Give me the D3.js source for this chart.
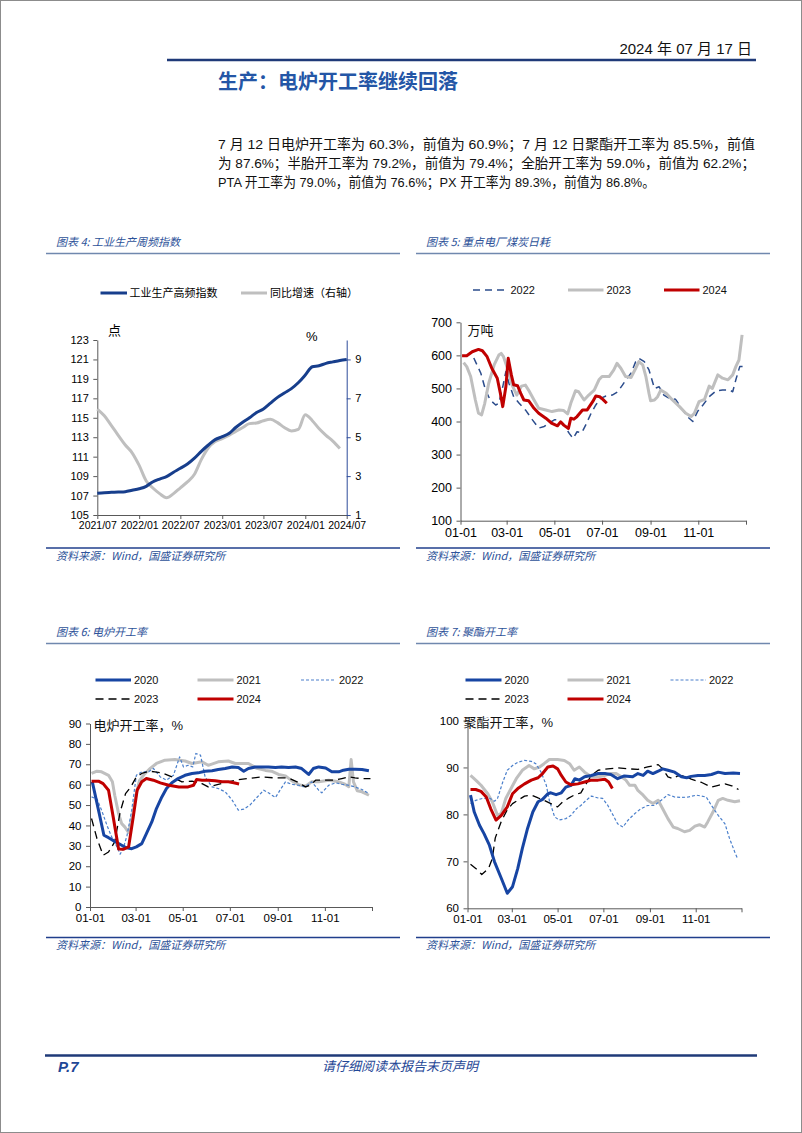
<!DOCTYPE html>
<html><head><meta charset="utf-8">
<script src="https://cdn.jsdelivr.net/npm/d3@7"></script>
<style>
html,body{margin:0;padding:0;background:#fff;}
svg{display:block;}
</style></head>
<body>
<script>
// ---------------- DATA ----------------
// Chart 4: industrial production weekly index (monthly samples)
const idxDates = ["2021-07","2021-08","2021-09","2021-10","2021-11","2021-12","2022-01","2022-02","2022-03","2022-04","2022-05","2022-06",
  "2022-07","2022-08","2022-09","2022-10","2022-11","2022-12","2023-01","2023-02","2023-03","2023-04","2023-05","2023-06",
  "2023-07","2023-08","2023-09","2023-10","2023-11","2023-12","2024-01","2024-02","2024-03","2024-04","2024-05","2024-06","2024-07"];
const idxValues = [107.23,107.3,107.33,107.36,107.4,107.55,107.7,107.95,108.4,108.7,108.95,109.4,
  109.8,110.25,110.85,111.55,112.2,112.75,113.05,113.4,114.0,114.55,115.0,115.55,
  115.9,116.5,117.1,117.55,118.0,118.6,119.4,120.25,120.35,120.6,120.75,120.9,121.0];
const yoyValues = [6.45,6.1,5.6,5.1,4.6,4.2,3.55,2.75,2.4,2.1,1.89,2.1,
  2.4,2.7,3.1,3.85,4.46,4.78,4.93,5.1,5.3,5.5,5.7,5.73,
  5.85,5.92,5.75,5.5,5.32,5.4,6.15,5.85,5.45,5.1,4.8,4.42];
const idxLeftTicks = [105,107,109,111,113,115,117,119,121,123];
const idxRightTicks = [1,3,5,7,9];
const idxXTicks = ["2021-07","2022-01","2022-07","2023-01","2023-07","2024-01","2024-07"];

// Chart 5: coal daily consumption [day of year, value]
const coal2022 = [[17,592],[26,546],[32,495],[38,465],[45,450],[49,455],[54,505],[58,551],[62,515],[68,475],[75,455],[83,435],[92,405],[100,380],[107,385],[113,395],[120,405],[126,405],[132,390],[139,364],[144,349],[149,369],[155,366],[160,389],[167,425],[173,450],[179,470],[186,477],[194,480],[201,490],[207,510],[213,531],[218,546],[224,581],[228,591],[235,581],[241,556],[248,500],[254,505],[260,480],[267,470],[275,467],[284,435],[290,415],[297,400],[303,430],[310,450],[318,475],[327,493],[335,495],[344,495],[348,490],[352,526],[357,566],[361,566]];
const coal2023 = [[4,578],[8,566],[13,536],[19,465],[23,425],[27,420],[31,455],[36,515],[43,571],[49,601],[52,606],[55,596],[60,561],[66,510],[72,480],[78,507],[83,510],[87,495],[94,465],[100,440],[109,435],[117,430],[126,435],[132,433],[137,423],[141,455],[147,493],[151,490],[158,465],[164,480],[171,495],[177,526],[181,536],[190,536],[196,556],[200,576],[205,561],[211,536],[218,533],[224,561],[228,581],[233,571],[237,536],[241,485],[243,463],[248,465],[252,475],[256,495],[263,485],[271,465],[280,445],[288,425],[295,415],[299,425],[305,460],[312,467],[318,507],[322,500],[329,541],[335,531],[342,526],[348,541],[352,566],[356,586],[360,662]];
const coal2024 = [[2,599],[8,599],[15,611],[23,618],[28,614],[34,596],[40,561],[47,531],[51,485],[54,445],[58,505],[61,591],[65,541],[68,511],[73,508],[77,485],[81,465],[87,463],[94,440],[100,425],[109,410],[117,394],[124,387],[128,399],[132,389],[138,379],[141,410],[145,407],[149,415],[156,435],[162,435],[169,460],[173,477],[178,475],[182,467],[187,455]];
const coalTicks = [100,200,300,400,500,600,700];

// Chart 6: EAF operating rate
const eaf2020 = [[3,61.4],[11,47.5],[18,35.2],[24,34],[32,32.2],[41,30.3],[47,29],[54,28.6],[60,29.5],[67,31.1],[73,36],[80,41.7],[86,48.3],[93,54],[99,58.1],[106,60.9],[114,63],[123,64.6],[132,65.5],[140,65.8],[149,66.6],[158,66.8],[166,67.4],[175,67.9],[184,68.7],[192,68.4],[199,66.6],[205,67.9],[214,68.7],[222,68.7],[231,68.7],[240,68.4],[248,68.7],[257,68.4],[266,68.7],[274,67.9],[283,65],[289,67.9],[296,68.7],[305,68.2],[313,66.3],[322,66.3],[328,67.1],[335,67.6],[343,67.6],[352,67.4],[361,66.8]];
const eaf2021 = [[2,65.5],[9,66.6],[15,66.3],[24,64.6],[29,61.4],[32,54.8],[37,45.8],[41,40.9],[45,39.3],[50,36.5],[55,45],[60,56],[64,62],[70,65],[78,68],[86,70.4],[97,72],[110,72.3],[123,71.6],[132,70.4],[145,71.2],[153,69.5],[166,71.2],[179,71.6],[188,70.4],[197,70.4],[205,70.4],[216,68],[227,67],[235,66.6],[244,65],[253,64.3],[261,62],[270,60],[279,59.2],[287,61.4],[296,61.4],[309,62.2],[322,61.4],[330,60.2],[335,59],[338,72.3],[341,61.4],[346,57],[352,56.5],[361,54.8]];
const eaf2022 = [[2,54],[9,53],[15,47.5],[22,40],[28,34.4],[35,29.5],[39,25.9],[43,28.7],[48,35.2],[54,47.5],[60,64.6],[67,66.3],[76,66.3],[82,68],[91,63.8],[99,62.2],[108,64.6],[116,73.6],[121,68.7],[127,69.5],[133,68.7],[137,75.3],[143,74.5],[149,63.8],[158,58.9],[166,58.1],[175,56.5],[184,52.4],[192,47.5],[199,48],[207,50],[216,53.7],[225,57.3],[231,56],[240,53.7],[246,57.3],[253,61.4],[261,60.2],[270,59.7],[279,58.9],[287,61.4],[296,57.3],[300,56],[309,59.7],[318,60.9],[326,60.2],[335,59.7],[343,58.9],[352,57.6],[361,55.6]];
const eaf2023 = [[2,43.4],[9,33.6],[17,25.4],[24,27],[32,31.9],[39,46.6],[46,55.6],[53,59],[60,63.8],[67,65.5],[76,66.6],[84,66.3],[93,65.8],[106,63.8],[119,61.4],[132,61.7],[145,60.5],[153,58.9],[166,60.2],[179,61.4],[192,62.5],[205,63],[222,63.8],[240,63.3],[257,63.3],[268,61.4],[279,58.9],[285,59.7],[292,62.2],[305,62.2],[317,62.2],[326,63],[335,63.8],[343,63.3],[352,63],[363,63]];
const eaf2024 = [[2,61.7],[11,61.7],[17,60.5],[24,57.3],[30,44.2],[37,28.5],[43,28.3],[50,29.5],[56,44.2],[61,57.3],[67,61.4],[73,63],[82,62.2],[91,60.9],[102,59.7],[115,58.9],[127,58.9],[134,59.7],[138,62.5],[145,62.2],[153,62.2],[162,61.9],[171,61.4],[179,61.4],[186,60.9],[193,60.3]];
const eafTicks = [0,10,20,30,40,50,60,70,80,90];

// Chart 7: polyester operating rate
const pet2020 = [[4,84.1],[9,80.5],[16,77.7],[22,75.9],[29,73.5],[36,69.9],[45,66.4],[53,63.2],[60,64.6],[67,68.5],[73,72.7],[80,77],[87,80.5],[94,82.7],[100,83.2],[107,84.4],[111,84.6],[118,84.2],[125,84.6],[131,85.8],[138,86.2],[143,87.6],[149,87.3],[156,88],[165,88.3],[174,88.7],[183,88.7],[191,88.5],[200,87.6],[209,88.2],[220,88],[227,88.7],[234,88.3],[240,89.2],[247,88.7],[254,89.2],[260,89.7],[267,89.4],[276,89],[285,88],[292,87.8],[298,88.1],[307,88.3],[316,88.3],[325,88.5],[334,89],[343,88.7],[354,88.8],[363,88.7]];
const pet2021 = [[4,88.3],[11,87.3],[18,86.2],[27,84.4],[33,82.7],[40,79.8],[45,80.2],[51,83.4],[58,85.5],[65,87.6],[73,89.4],[82,90.4],[89,89.7],[96,90.1],[102,90.8],[109,91.7],[120,91.7],[129,91.5],[136,90.8],[142,89.4],[149,90.1],[156,89],[165,88],[174,88],[183,88.3],[191,88.7],[198,88.7],[205,88],[211,87.3],[216,86.2],[223,86.2],[227,85.1],[234,84.1],[240,83],[247,82.3],[254,83],[260,81.2],[267,79.1],[274,77.3],[280,77],[289,76.3],[296,76.6],[303,77.5],[309,77.8],[316,77.3],[320,78.4],[327,80.5],[334,83],[340,83.4],[347,83],[356,82.7],[363,82.9]];
const pet2022 = [[4,82.3],[11,83],[20,83.4],[29,83.5],[36,82.8],[40,83.4],[47,86.9],[53,89.4],[60,90.4],[67,91.1],[76,91.5],[85,91.3],[91,90.8],[98,89],[105,86.2],[109,83],[116,79.5],[122,78.8],[131,79.1],[138,79.8],[145,81.2],[151,81.9],[158,83],[165,83.9],[174,83.5],[180,83.4],[187,81.9],[194,79.8],[200,78],[207,77.3],[214,78.8],[223,80.2],[231,81.2],[240,81.9],[249,81.9],[258,83],[267,84.2],[276,83.7],[285,83.6],[294,83.7],[305,84.1],[312,83.9],[318,83.7],[325,81.9],[334,79.8],[343,78],[349,74.9],[356,72],[360,70.5]];
const pet2023 = [[4,69.4],[11,68.5],[19,67.2],[28,68.5],[33,70.6],[37,75],[45,78.5],[53,81],[60,82.3],[67,83],[76,83.9],[85,84.1],[94,83.5],[102,83],[111,82.3],[120,81.6],[127,82.7],[134,83.4],[142,84.1],[151,84.6],[158,86.5],[165,88.3],[174,89.4],[187,89.7],[200,89.9],[214,89.7],[227,89.6],[240,90.1],[254,90.6],[260,89.7],[267,88],[274,87.6],[280,88.2],[289,88.2],[298,87.5],[312,86.8],[325,85.8],[334,86.2],[343,86.5],[352,86.1],[361,85.3]];
const pet2024 = [[4,85.3],[11,85.3],[18,84.9],[25,83.7],[31,81.2],[38,78.8],[45,79.8],[53,81.6],[60,84.4],[67,85.5],[76,86.5],[85,87.3],[94,87.8],[100,88.7],[107,90.1],[114,90.3],[120,89.7],[125,88.3],[131,86.9],[138,86.3],[147,86.5],[156,86.9],[165,87.3],[174,87.3],[183,87.5],[188,86.9],[193,85.5]];
const petTicks = [60,70,80,90,100];

const dayTickLabels = ["01-01","03-01","05-01","07-01","09-01","11-01","12-31"];

// ---------------- STYLE ----------------
const LAT = "'Liberation Sans', Arial, 'Noto Sans CJK SC', sans-serif";
const CJK = "'Noto Sans CJK SC', 'Liberation Sans', sans-serif";
const NAVY = "#173E8C", BLUE = "#1745A3", GRAY = "#BFBFBF", RED = "#C00000", LBLUE = "#4A7FCB", DNAVY = "#2B4C8C";
const HEADBLUE = "#2D5299";

const svg = d3.select("body").append("svg").attr("width", 802).attr("height", 1133);
svg.append("rect").attr("width", 802).attr("height", 1133).attr("fill", "#fff");
svg.append("rect").attr("x", 0.5).attr("y", 0.5).attr("width", 801).attr("height", 1132)
  .attr("fill", "none").attr("stroke", "#8c8c8c").attr("stroke-width", 1);

// ---------------- PAGE HEADER ----------------
svg.append("text").attr("x", 752).attr("y", 54).attr("text-anchor", "end")
  .attr("font-family", LAT).attr("font-size", 15).attr("fill", "#111")
  .text("2024 年 07 月 17 日");
svg.append("line").attr("x1", 167).attr("x2", 756).attr("y1", 60).attr("y2", 60)
  .attr("stroke", "#1F3A78").attr("stroke-width", 2.5);
svg.append("text").attr("x", 218).attr("y", 89)
  .attr("font-family", CJK).attr("font-size", 20).attr("font-weight", "bold").attr("fill", "#2456A6")
  .text("生产：电炉开工率继续回落");

const para = [
  {t: "7 月 12 日电炉开工率为 60.3%，前值为 60.9%；7 月 12 日聚酯开工率为 85.5%，前值", y: 149, w: 537},
  {t: "为 87.6%；半胎开工率为 79.2%，前值为 79.4%；全胎开工率为 59.0%，前值为 62.2%；", y: 168, w: 537},
  {t: "PTA 开工率为 79.0%，前值为 76.6%；PX 开工率为 89.3%，前值为 86.8%。", y: 187, w: 437}
];
para.forEach(p => {
  svg.append("text").attr("x", 218).attr("y", p.y)
    .attr("font-family", LAT).attr("font-size", 13.5).attr("fill", "#111")
    .attr("textLength", p.w).attr("lengthAdjust", "spacingAndGlyphs").text(p.t);
});

// ---------------- FOOTER ----------------
svg.append("line").attr("x1", 45).attr("x2", 757).attr("y1", 1055.5).attr("y2", 1055.5)
  .attr("stroke", "#1F3A78").attr("stroke-width", 2.5);
svg.append("text").attr("x", 58).attr("y", 1072).attr("font-family", LAT).attr("font-size", 15)
  .attr("font-weight", "bold").attr("font-style", "italic").attr("fill", "#1F4796").text("P.7");
svg.append("text").attr("x", 400).attr("y", 1071).attr("text-anchor", "middle").attr("font-family", CJK)
  .attr("font-size", 13).attr("font-style", "italic").attr("fill", "#1F4796").text("请仔细阅读本报告末页声明");

// ---------------- FRAMES ----------------
function frame(x0, x1, title, headY, srcY) {
  svg.append("text").attr("x", x0 + 10).attr("y", headY).attr("font-family", CJK)
    .attr("font-size", 11).attr("font-style", "italic").attr("fill", HEADBLUE).text(title);
  svg.append("line").attr("x1", x0).attr("x2", x1).attr("y1", headY + 7.5).attr("y2", headY + 7.5)
    .attr("stroke", "#7088AE").attr("stroke-width", 1.5);
  svg.append("line").attr("x1", x0).attr("x2", x1).attr("y1", srcY).attr("y2", srcY)
    .attr("stroke", "#203F8C").attr("stroke-width", 1.5);
  svg.append("text").attr("x", x0 + 10).attr("y", srcY + 11.5).attr("font-family", CJK)
    .attr("font-size", 11).attr("font-style", "italic").attr("fill", HEADBLUE).text("资料来源：Wind，国盛证券研究所");
}
frame(46, 400, "图表 4:  工业生产周频指数", 246, 548);
frame(416, 770, "图表 5:  重点电厂煤炭日耗", 246, 548);
frame(46, 400, "图表 6:  电炉开工率", 636, 937.5);
frame(416, 770, "图表 7:  聚酯开工率", 636, 937.5);

function styleAxis(g, color, fs) {
  g.select(".domain").attr("stroke", color).attr("stroke-width", 1);
  g.selectAll(".tick line").attr("stroke", color).attr("stroke-width", 1);
  g.selectAll(".tick text").attr("fill", "#000").attr("font-family", LAT).attr("font-size", fs);
}
function legendItem(x1, x2, y, color, width, dash, label) {
  const l = svg.append("line").attr("x1", x1).attr("x2", x2).attr("y1", y).attr("y2", y)
    .attr("stroke", color).attr("stroke-width", width);
  if (dash) l.attr("stroke-dasharray", dash);
  svg.append("text").attr("x", x2 + 3).attr("y", y + 4).attr("font-family", LAT)
    .attr("font-size", 11).attr("fill", "#111").text(label);
}
function drawLine(data, x, y, color, width, dash, curve) {
  const gen = d3.line().x(d => x(d[0])).y(d => y(d[1])).curve(curve || d3.curveLinear);
  const p = svg.append("path").datum(data).attr("d", gen).attr("fill", "none")
    .attr("stroke", color).attr("stroke-width", width).attr("stroke-linejoin", "round");
  if (dash) p.attr("stroke-dasharray", dash);
}

// ---------------- CHART 4 ----------------
(function () {
  const parse = d3.timeParse("%Y-%m");
  const x = d3.scaleTime().domain([parse("2021-07"), parse("2024-07")]).range([97.3, 346.7]);
  const yL = d3.scaleLinear().domain([105, 123]).range([515, 340]);
  const yR = d3.scaleLinear().domain([1, 10]).range([515, 340]);
  const gx = svg.append("g").attr("transform", "translate(0,515)")
    .call(d3.axisBottom(x).tickValues(idxXTicks.map(parse)).tickFormat(d3.timeFormat("%Y/%m")).tickSize(4).tickSizeOuter(0).tickPadding(3));
  styleAxis(gx, "#595959", 10.5);
  const gl = svg.append("g").attr("transform", "translate(97.3,0)")
    .call(d3.axisLeft(yL).tickValues(idxLeftTicks).tickSize(4).tickSizeOuter(0).tickPadding(4.5));
  styleAxis(gl, "#595959", 11);
  const gr = svg.append("g").attr("transform", "translate(346.7,0)")
    .call(d3.axisRight(yR).tickValues(idxRightTicks).tickSize(4).tickSizeOuter(0).tickPadding(4.5));
  styleAxis(gr, "#2E4C9A", 11);

  const yoy = yoyValues.map((v, i) => [parse(idxDates[i]), v]);
  const idx = idxValues.map((v, i) => [parse(idxDates[i]), v]);
  drawLine(yoy, x, yR, GRAY, 3, null, d3.curveMonotoneX);
  drawLine(idx, x, yL, NAVY, 3, null, d3.curveMonotoneX);

  svg.append("text").attr("x", 108).attr("y", 335).attr("font-family", CJK).attr("font-size", 13).text("点");
  svg.append("text").attr("x", 306).attr("y", 341).attr("font-family", LAT).attr("font-size", 13).text("%");

  svg.append("line").attr("x1", 100.5).attr("x2", 127).attr("y1", 293).attr("y2", 293).attr("stroke", NAVY).attr("stroke-width", 3);
  svg.append("text").attr("x", 129.5).attr("y", 297).attr("font-family", CJK).attr("font-size", 11).text("工业生产高频指数");
  svg.append("line").attr("x1", 241).attr("x2", 267).attr("y1", 293).attr("y2", 293).attr("stroke", GRAY).attr("stroke-width", 3);
  svg.append("text").attr("x", 270).attr("y", 297).attr("font-family", CJK).attr("font-size", 11).text("同比增速（右轴）");
})();

// ---------------- day-of-year charts ----------------
function dayChart(cfg) {
  const x = d3.scaleLinear().domain([0, 365]).range([cfg.x0, cfg.x1]);
  const y = d3.scaleLinear().domain(cfg.ydom).range([cfg.y0, cfg.y1]);
  const parseMD = d3.timeParse("%Y-%m-%d");
  const tickDays = dayTickLabels.map((l, i) => i === dayTickLabels.length - 1 ? 365 : d3.timeDay.count(parseMD("2023-01-01"), parseMD("2023-" + l)));
  const gx = svg.append("g").attr("transform", `translate(0,${cfg.y0})`)
    .call(d3.axisBottom(x).tickValues(tickDays).tickFormat((d, i) => i === tickDays.length - 1 ? "" : dayTickLabels[i]).tickSize(4).tickSizeOuter(0).tickPadding(cfg.xpad));
  styleAxis(gx, "#595959", cfg.fs);
  const gy = svg.append("g").attr("transform", `translate(${cfg.x0},0)`)
    .call(d3.axisLeft(y).tickValues(cfg.yticks).tickSize(4).tickSizeOuter(0).tickPadding(cfg.ypad));
  styleAxis(gy, "#595959", cfg.fs);
  cfg.series.forEach(s => drawLine(s.data, x, y, s.color, s.width, s.dash));
  svg.append("text").attr("x", cfg.label.x).attr("y", cfg.label.y).attr("font-family", LAT)
    .attr("font-size", 13).attr("fill", "#111").text(cfg.label.t);
}

// Chart 5
dayChart({
  x0: 460.5, x1: 746, y0: 520.7, y1: 322.3, ydom: [100, 700], yticks: coalTicks, fs: 12.5, xpad: 3, ypad: 4.5,
  label: {x: 467.5, y: 335, t: "万吨"},
  series: [
    {data: coal2022, color: DNAVY, width: 1.5, dash: "7,5"},
    {data: coal2023, color: GRAY, width: 3},
    {data: coal2024, color: RED, width: 3}
  ]
});
legendItem(473, 507.5, 290, DNAVY, 1.5, "7,5", "2022");
legendItem(568, 603.5, 290, GRAY, 3, null, "2023");
legendItem(664, 699.5, 290, RED, 3, null, "2024");

// Chart 6
dayChart({
  x0: 90, x1: 372, y0: 907, y1: 723.5, ydom: [0, 90], yticks: eafTicks, fs: 11.5, xpad: 3, ypad: 4.5,
  label: {x: 93.5, y: 730, t: "电炉开工率，%"},
  series: [
    {data: eaf2021, color: GRAY, width: 3},
    {data: eaf2022, color: LBLUE, width: 1.2, dash: "3,2"},
    {data: eaf2023, color: "#000", width: 1.3, dash: "8,5"},
    {data: eaf2020, color: BLUE, width: 3},
    {data: eaf2024, color: RED, width: 3}
  ]
});
legendItem(95.5, 131, 680, BLUE, 3, null, "2020");
legendItem(197.5, 233.5, 680, GRAY, 3, null, "2021");
legendItem(301, 336, 680, LBLUE, 1.2, "3,2", "2022");
legendItem(95.5, 131, 699, "#000", 1.3, "8,5", "2023");
legendItem(197.5, 233.5, 699, RED, 3, null, "2024");

// Chart 7
dayChart({
  x0: 467.5, x1: 741.5, y0: 908.3, y1: 720.5, ydom: [60, 100], yticks: petTicks, fs: 11.5, xpad: 3, ypad: 4.5,
  label: {x: 463.5, y: 727, t: "聚酯开工率，%"},
  series: [
    {data: pet2021, color: GRAY, width: 3},
    {data: pet2022, color: LBLUE, width: 1.2, dash: "3,2"},
    {data: pet2023, color: "#000", width: 1.3, dash: "8,5"},
    {data: pet2020, color: BLUE, width: 3},
    {data: pet2024, color: RED, width: 3}
  ]
});
legendItem(465.5, 501.5, 680, BLUE, 3, null, "2020");
legendItem(567.5, 603.5, 680, GRAY, 3, null, "2021");
legendItem(670.5, 706, 680, LBLUE, 1.2, "3,2", "2022");
legendItem(465.5, 501.5, 699, "#000", 1.3, "8,5", "2023");
legendItem(567.5, 603.5, 699, RED, 3, null, "2024");
</script>
</body></html>
